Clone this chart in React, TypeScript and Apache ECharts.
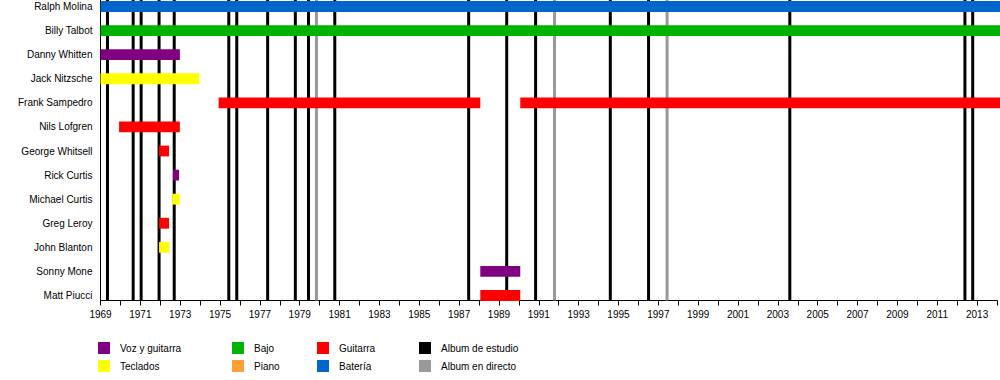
import React, { useEffect, useRef } from "react";
import * as echarts from "echarts";

// ---- data ----
const members = [
  "Ralph Molina",
  "Billy Talbot",
  "Danny Whitten",
  "Jack Nitzsche",
  "Frank Sampedro",
  "Nils Lofgren",
  "George Whitsell",
  "Rick Curtis",
  "Michael Curtis",
  "Greg Leroy",
  "John Blanton",
  "Sonny Mone",
  "Matt Piucci",
];

// [member, start year, end year, role]
const stints: [string, number, number, string][] = [
  ["Ralph Molina", 1969, 2014, "bateria"],
  ["Billy Talbot", 1969, 2014, "bajo"],
  ["Danny Whitten", 1969, 1972.97, "voz"],
  ["Jack Nitzsche", 1969, 1973.94, "teclados"],
  ["Frank Sampedro", 1974.91, 1988, "guitarra"],
  ["Frank Sampedro", 1990, 2014, "guitarra"],
  ["Nils Lofgren", 1969.93, 1972.97, "guitarra"],
  ["George Whitsell", 1971.93, 1972.43, "guitarra"],
  ["Rick Curtis", 1972.63, 1972.93, "voz"],
  ["Michael Curtis", 1972.59, 1972.96, "teclados"],
  ["Greg Leroy", 1971.93, 1972.43, "guitarra"],
  ["John Blanton", 1971.93, 1972.44, "teclados"],
  ["Sonny Mone", 1988, 1990, "voz"],
  ["Matt Piucci", 1988, 1990, "guitarra"],
];

const studioAlbums = [
  1969.35, 1970.64, 1971.04, 1971.94, 1972.7, 1975.44, 1975.84, 1977.39,
  1978.78, 1979.44, 1980.76, 1987.48, 1989.39, 1990.84, 1994.59, 1996.51,
  2003.6, 2012.39, 2012.78,
];
const liveAlbums = [1979.84, 1991.79, 1997.44];

const yearMin = 1969;
const yearMax = 2014;

const legendRoles = ["voz", "teclados", "bajo", "piano", "guitarra", "bateria", "studio", "live"];
const legendLabels = [
  "Voz y guitarra",
  "Teclados",
  "Bajo",
  "Piano",
  "Guitarra",
  "Batería",
  "Album de estudio",
  "Album en directo",
];

// ---- styles ----
const colors: Record<string, string> = {
  voz: "#800080",
  teclados: "#FFFF00",
  bajo: "#00B300",
  piano: "#FFA033",
  guitarra: "#FF0000",
  bateria: "#0066CC",
  studio: "#000000",
  live: "#999999",
};

const FONT = "'Liberation Sans', Arial, sans-serif";

export default function App() {
  const ref = useRef<HTMLDivElement>(null);

  useEffect(() => {
    if (!ref.current) return;
    const chart = echarts.init(ref.current, undefined, { renderer: "svg" });

    const left = 100.5;
    const plotWidth = 900;
    const axisY = 300.5;
    const firstRowCenter = 6.5;
    const lastRowCenter = 295.5;

    const legendColX = [98, 232, 317, 419];
    const legendRowY = [342, 360];
    const legendGraphics: any[] = [];
    legendRoles.forEach((role, i) => {
      const col = Math.floor(i / 2);
      const row = i % 2;
      legendGraphics.push({
        type: "rect",
        left: legendColX[col],
        top: legendRowY[row],
        shape: { width: 12, height: 12 },
        style: { fill: colors[role] },
      });
      legendGraphics.push({
        type: "text",
        left: legendColX[col] + 22,
        top: legendRowY[row] + 1,
        style: {
          text: legendLabels[i],
          fill: "#000",
          font: `10px ${FONT}`,
        },
      });
    });

    const lineRender = (color: string) => (params: any, api: any) => {
      const v = api.value(0);
      const t = api.coord([v, 1]);
      const b = api.coord([v, 0]);
      return {
        type: "line",
        shape: { x1: t[0], y1: t[1], x2: b[0], y2: b[1] },
        style: { stroke: color, lineWidth: 3 },
      };
    };

    chart.setOption({
      animation: false,
      backgroundColor: "#ffffff",
      textStyle: { fontFamily: FONT },
      grid: [
        { left, width: plotWidth, top: 0, height: axisY },
        { left, width: plotWidth, top: firstRowCenter, height: lastRowCenter - firstRowCenter },
      ],
      xAxis: [
        {
          type: "value",
          gridIndex: 0,
          min: yearMin,
          max: yearMax,
          interval: 1,
          axisLine: { show: true, lineStyle: { color: "#000", width: 1 } },
          axisTick: { show: true, length: 5, lineStyle: { color: "#000", width: 1 } },
          axisLabel: {
            margin: 9,
            color: "#000",
            fontSize: 10,
            fontFamily: FONT,
            formatter: (v: number) => (Math.round(v) % 2 === 1 ? String(Math.round(v)) : ""),
          },
          splitLine: { show: false },
        },
        {
          type: "value",
          gridIndex: 1,
          min: yearMin,
          max: yearMax,
          show: false,
        },
      ],
      yAxis: [
        {
          type: "value",
          gridIndex: 0,
          min: 0,
          max: 1,
          axisLine: { show: true, lineStyle: { color: "#000", width: 1 } },
          axisTick: { show: false },
          axisLabel: { show: false },
          splitLine: { show: false },
        },
        {
          type: "category",
          gridIndex: 1,
          inverse: true,
          boundaryGap: false,
          data: members,
          axisLine: { show: false },
          axisTick: { show: false },
          splitLine: { show: false },
          axisLabel: {
            margin: 8,
            color: "#000",
            fontSize: 10,
            fontFamily: FONT,
          },
        },
      ],
      series: [
        {
          type: "custom",
          name: "Album de estudio",
          xAxisIndex: 0,
          yAxisIndex: 0,
          z: 2,
          encode: { x: 0 },
          data: studioAlbums.map((v) => [v]),
          renderItem: lineRender(colors.studio),
          silent: true,
        },
        {
          type: "custom",
          name: "Album en directo",
          xAxisIndex: 0,
          yAxisIndex: 0,
          z: 2,
          encode: { x: 0 },
          data: liveAlbums.map((v) => [v]),
          renderItem: lineRender(colors.live),
          silent: true,
        },
        {
          type: "custom",
          name: "Miembros",
          xAxisIndex: 1,
          yAxisIndex: 1,
          z: 5,
          clip: false,
          encode: { x: [1, 2], y: 0 },
          data: stints.map((s) => ({
            value: [members.indexOf(s[0]), s[1], s[2]],
            itemStyle: { color: colors[s[3]] },
          })),
          renderItem: (params: any, api: any) => {
            const row = api.value(0);
            const p0 = api.coord([api.value(1), row]);
            const p1 = api.coord([api.value(2), row]);
            const h = api.size([0, 1])[1] * 0.45;
            return {
              type: "rect",
              shape: { x: p0[0], y: p0[1] - h / 2, width: p1[0] - p0[0], height: h },
              style: { fill: api.visual("color") },
            };
          },
          silent: true,
        },
      ],
      graphic: legendGraphics,
    });

    return () => chart.dispose();
  }, []);

  return (
    <div
      ref={ref}
      style={{ position: "absolute", left: 0, top: 0, width: 1000, height: 380, background: "#fff" }}
    />
  );
}
